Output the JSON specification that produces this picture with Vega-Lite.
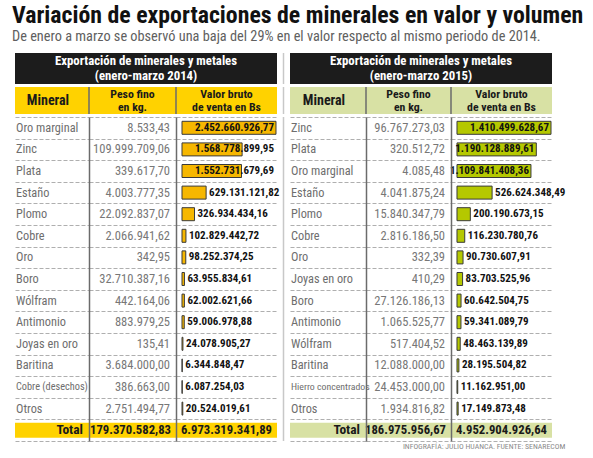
{
  "$schema": "https://vega.github.io/schema/vega-lite/v6.json",
  "background": "white",
  "padding": {"left": 12, "top": 4, "right": 5, "bottom": 5},
  "title": {
    "text": "Variación de exportaciones de minerales en valor y volumen",
    "subtitle": "De enero a marzo se observó una baja del 29% en el valor respecto al mismo periodo de 2014.",
    "anchor": "start", "fontSize": 23.8, "fontWeight": "bold", "color": "#111111",
    "subtitleFontSize": 14.3, "subtitleColor": "#606060", "subtitlePadding": 2,
    "offset": 8, "dx": -3
  },
  "config": {
    "view": {"stroke": null},
    "locale": {"number": {"decimal": ",", "thousands": ".", "grouping": [3], "currency": ["", ""]}},
    "text": {"font": "Roboto Condensed"},
    "title": {"font": "Roboto Condensed", "subtitleFont": "Roboto Condensed"}
  },
  "datasets": {
    "t2014": [
      {"mineral": "Oro marginal", "peso": 8533.43, "valor": 2452660926.77},
      {"mineral": "Zinc", "peso": 109999709.06, "valor": 1568778899.95},
      {"mineral": "Plata", "peso": 339617.70, "valor": 1552731679.69},
      {"mineral": "Estaño", "peso": 4003777.35, "valor": 629131121.82},
      {"mineral": "Plomo", "peso": 22092837.07, "valor": 326934434.16},
      {"mineral": "Cobre", "peso": 2066941.62, "valor": 102829442.72},
      {"mineral": "Oro", "peso": 342.95, "valor": 98252374.25},
      {"mineral": "Boro", "peso": 32710387.16, "valor": 63955834.61},
      {"mineral": "Wólfram", "peso": 442164.06, "valor": 62002621.66},
      {"mineral": "Antimonio", "peso": 883979.25, "valor": 59006978.88},
      {"mineral": "Joyas en oro", "peso": 135.41, "valor": 24078905.27},
      {"mineral": "Baritina", "peso": 3684000.00, "valor": 6344848.47},
      {"mineral": "Cobre (desechos)", "peso": 386663.00, "valor": 6087254.03},
      {"mineral": "Otros", "peso": 2751494.77, "valor": 20524019.61},
      {"mineral": "Total", "peso": 179370582.83, "valor": 6973319341.89}
    ],
    "t2015": [
      {"mineral": "Zinc", "peso": 96767273.03, "valor": 1410499628.67},
      {"mineral": "Plata", "peso": 320512.72, "valor": 1190128889.61},
      {"mineral": "Oro marginal", "peso": 4085.48, "valor": 1109841408.36},
      {"mineral": "Estaño", "peso": 4041875.24, "valor": 526624348.49},
      {"mineral": "Plomo", "peso": 15840347.79, "valor": 200190673.15},
      {"mineral": "Cobre", "peso": 2816186.50, "valor": 116230780.76},
      {"mineral": "Oro", "peso": 332.39, "valor": 90730607.91},
      {"mineral": "Joyas en oro", "peso": 410.29, "valor": 83703525.96},
      {"mineral": "Boro", "peso": 27126186.13, "valor": 60642504.75},
      {"mineral": "Antimonio", "peso": 1065525.77, "valor": 59341089.79},
      {"mineral": "Wólfram", "peso": 517404.52, "valor": 48463139.89},
      {"mineral": "Baritina", "peso": 12088000.00, "valor": 28195504.82},
      {"mineral": "Hierro concentrados", "peso": 24453000.00, "valor": 11162951.00},
      {"mineral": "Otros", "peso": 1934816.82, "valor": 17149873.48},
      {"mineral": "Total", "peso": 186975956.67, "valor": 4952904926.64}
    ]
  },
  "spacing": 1,
  "vconcat": [
    {
      "spacing": 0, "bounds": "flush",
      "hconcat": [
        {
          "width": 262, "height": 31, "view": {"fill": "#1c1c1c", "stroke": null},
          "data": {"values": [{"a": "Exportación de minerales y metales", "b": "(enero-marzo 2014)"}]},
          "layer": [
            {"mark": {"type": "text", "color": "#ffffff", "fontWeight": "bold", "fontSize": 12.8, "dy": -7.3}, "encoding": {"text": {"field": "a"}}},
            {"mark": {"type": "text", "color": "#ffffff", "fontWeight": "bold", "fontSize": 12.8, "dy": 7.3}, "encoding": {"text": {"field": "b"}}}
          ]
        },
        {
          "width": 13, "height": 31, "data": {"values": [{}]},
          "mark": {"type": "rule", "color": "#c8c8c8", "strokeWidth": 1.5},
          "encoding": {"x": {"datum": 0.5, "type": "quantitative", "scale": {"domain": [0, 1]}, "axis": null}}
        },
        {
          "width": 262, "height": 31, "view": {"fill": "#1c1c1c", "stroke": null},
          "data": {"values": [{"a": "Exportación de minerales y metales", "b": "(enero-marzo 2015)"}]},
          "layer": [
            {"mark": {"type": "text", "color": "#ffffff", "fontWeight": "bold", "fontSize": 12.8, "dy": -7.3}, "encoding": {"text": {"field": "a"}}},
            {"mark": {"type": "text", "color": "#ffffff", "fontWeight": "bold", "fontSize": 12.8, "dy": 7.3}, "encoding": {"text": {"field": "b"}}}
          ]
        }
      ]
    },
    {
      "spacing": 0, "bounds": "flush",
      "hconcat": [
        {
          "width": 74, "height": 27, "view": {"fill": "#FFD200", "stroke": null},
          "data": {"values": [{"t": "Mineral"}]},
          "mark": {"type": "text", "fontWeight": "bold", "fontSize": 14, "color": "#1a1a1a", "dx": -4},
          "encoding": {"text": {"field": "t"}}
        },
        {
          "width": 87, "height": 27, "view": {"fill": "#FFD200", "stroke": null},
          "data": {"values": [{"a": "Peso fino", "b": "en kg."}]},
          "layer": [
            {"mark": {"type": "text", "fontWeight": "bold", "fontSize": 11.8, "dy": -6.8, "color": "#1a1a1a"}, "encoding": {"text": {"field": "a"}}},
            {"mark": {"type": "text", "fontWeight": "bold", "fontSize": 11.8, "dy": 6.8, "color": "#1a1a1a"}, "encoding": {"text": {"field": "b"}}},
            {"mark": {"type": "rule", "color": "#6b6b6b", "strokeWidth": 1.5}, "encoding": {"x": {"datum": 0, "type": "quantitative", "scale": {"domain": [0, 1]}, "axis": null}}}
          ]
        },
        {
          "width": 101, "height": 27, "view": {"fill": "#FFD200", "stroke": null},
          "data": {"values": [{"a": "Valor bruto", "b": "de venta en Bs"}]},
          "layer": [
            {"mark": {"type": "text", "fontWeight": "bold", "fontSize": 11.8, "dy": -6.8, "color": "#1a1a1a"}, "encoding": {"text": {"field": "a"}}},
            {"mark": {"type": "text", "fontWeight": "bold", "fontSize": 11.8, "dy": 6.8, "color": "#1a1a1a"}, "encoding": {"text": {"field": "b"}}},
            {"mark": {"type": "rule", "color": "#6b6b6b", "strokeWidth": 1.5}, "encoding": {"x": {"datum": 0, "type": "quantitative", "scale": {"domain": [0, 1]}, "axis": null}}}
          ]
        },
        {
          "width": 13, "height": 27, "data": {"values": [{}]},
          "mark": {"type": "rule", "color": "#c8c8c8", "strokeWidth": 1.5},
          "encoding": {"x": {"datum": 0.5, "type": "quantitative", "scale": {"domain": [0, 1]}, "axis": null}}
        },
        {
          "width": 76, "height": 27, "view": {"fill": "#D8E1A4", "stroke": null},
          "data": {"values": [{"t": "Mineral"}]},
          "mark": {"type": "text", "fontWeight": "bold", "fontSize": 14, "color": "#1a1a1a", "dx": -4},
          "encoding": {"text": {"field": "t"}}
        },
        {
          "width": 85, "height": 27, "view": {"fill": "#D8E1A4", "stroke": null},
          "data": {"values": [{"a": "Peso fino", "b": "en kg."}]},
          "layer": [
            {"mark": {"type": "text", "fontWeight": "bold", "fontSize": 11.8, "dy": -6.8, "color": "#1a1a1a"}, "encoding": {"text": {"field": "a"}}},
            {"mark": {"type": "text", "fontWeight": "bold", "fontSize": 11.8, "dy": 6.8, "color": "#1a1a1a"}, "encoding": {"text": {"field": "b"}}},
            {"mark": {"type": "rule", "color": "#6b6b6b", "strokeWidth": 1.5}, "encoding": {"x": {"datum": 0, "type": "quantitative", "scale": {"domain": [0, 1]}, "axis": null}}}
          ]
        },
        {
          "width": 101, "height": 27, "view": {"fill": "#D8E1A4", "stroke": null},
          "data": {"values": [{"a": "Valor bruto", "b": "de venta en Bs"}]},
          "layer": [
            {"mark": {"type": "text", "fontWeight": "bold", "fontSize": 11.8, "dy": -6.8, "color": "#1a1a1a"}, "encoding": {"text": {"field": "a"}}},
            {"mark": {"type": "text", "fontWeight": "bold", "fontSize": 11.8, "dy": 6.8, "color": "#1a1a1a"}, "encoding": {"text": {"field": "b"}}},
            {"mark": {"type": "rule", "color": "#6b6b6b", "strokeWidth": 1.5}, "encoding": {"x": {"datum": 0, "type": "quantitative", "scale": {"domain": [0, 1]}, "axis": null}}}
          ]
        }
      ]
    },
    {
      "spacing": 0, "bounds": "flush",
      "title": {"text": "INFOGRAFÍA: JULIO HUANCA. FUENTE: SENARECOM", "orient": "bottom", "anchor": "end", "fontSize": 7.8, "fontWeight": "normal", "color": "#8a8a8a", "offset": 1, "dx": 0},
      "hconcat": [
        {
          "width": 74, "height": 324,
          "data": {"name": "t2014"},
          "encoding": {"y": {"field": "mineral", "type": "nominal", "scale": {"domain": ["Oro marginal","Zinc","Plata","Estaño","Plomo","Cobre","Oro","Boro","Wólfram","Antimonio","Joyas en oro","Baritina","Cobre (desechos)","Otros","Total"], "paddingInner": 0, "paddingOuter": 0}, "axis": {"title": null, "labels": false, "ticks": false, "domain": false, "grid": true, "gridDash": [4, 2], "gridColor": "#9a9a9a", "gridWidth": 0.8, "tickBand": "extent", "zindex": 1}}},
          "layer": [
            {"transform": [{"filter": "datum.mineral === 'Total'"}], "mark": {"type": "bar", "color": "#FFD200", "size": 15}, "encoding": {"x": {"datum": 0, "type": "quantitative", "scale": {"domain": [0, 1]}, "axis": null}, "x2": {"datum": 1}}},
            {"transform": [{"filter": "datum.mineral !== 'Total' && length(datum.mineral) <= 14"}], "mark": {"type": "text", "align": "left", "dx": 1, "fontSize": 12.3, "color": "#6e6e6e"}, "encoding": {"x": {"datum": 0, "type": "quantitative"}, "text": {"field": "mineral"}}},
            {"transform": [{"filter": "length(datum.mineral) > 14"}], "mark": {"type": "text", "align": "left", "dx": 1, "fontSize": 10.3, "color": "#6e6e6e"}, "encoding": {"x": {"datum": 0, "type": "quantitative"}, "text": {"field": "mineral"}}},
            {"transform": [{"filter": "datum.mineral === 'Total'"}], "mark": {"type": "text", "align": "right", "dx": -6, "fontSize": 13.5, "fontWeight": "bold", "color": "#1a1a1a"}, "encoding": {"x": {"datum": 1, "type": "quantitative"}, "text": {"field": "mineral"}}}
          ]
        },
        {
          "width": 87, "height": 324,
          "data": {"name": "t2014"},
          "encoding": {"y": {"field": "mineral", "type": "nominal", "scale": {"domain": ["Oro marginal","Zinc","Plata","Estaño","Plomo","Cobre","Oro","Boro","Wólfram","Antimonio","Joyas en oro","Baritina","Cobre (desechos)","Otros","Total"], "paddingInner": 0, "paddingOuter": 0}, "axis": {"title": null, "labels": false, "ticks": false, "domain": true, "domainColor": "#6b6b6b", "domainWidth": 1.5, "grid": true, "gridDash": [4, 2], "gridColor": "#9a9a9a", "gridWidth": 0.8, "tickBand": "extent", "zindex": 1}}},
          "layer": [
            {"transform": [{"filter": "datum.mineral === 'Total'"}], "mark": {"type": "bar", "color": "#FFD200", "size": 15}, "encoding": {"x": {"datum": 0, "type": "quantitative", "scale": {"domain": [0, 1]}, "axis": null}, "x2": {"datum": 1}}},
            {"transform": [{"filter": "datum.mineral !== 'Total'"}], "mark": {"type": "text", "align": "right", "dx": -6, "fontSize": 12.5, "color": "#777777"}, "encoding": {"x": {"datum": 1, "type": "quantitative"}, "text": {"field": "peso", "type": "quantitative", "format": ",.2f"}}},
            {"transform": [{"filter": "datum.mineral === 'Total'"}], "mark": {"type": "text", "align": "right", "dx": -5, "fontSize": 12.7, "fontWeight": "bold", "color": "#1a1a1a"}, "encoding": {"x": {"datum": 1, "type": "quantitative"}, "text": {"field": "peso", "type": "quantitative", "format": ",.2f"}}}
          ]
        },
        {
          "width": 101, "height": 324,
          "data": {"name": "t2014"},
          "encoding": {"y": {"field": "mineral", "type": "nominal", "scale": {"domain": ["Oro marginal","Zinc","Plata","Estaño","Plomo","Cobre","Oro","Boro","Wólfram","Antimonio","Joyas en oro","Baritina","Cobre (desechos)","Otros","Total"], "paddingInner": 0, "paddingOuter": 0}, "axis": {"title": null, "labels": false, "ticks": false, "domain": true, "domainColor": "#6b6b6b", "domainWidth": 1.5, "grid": true, "gridDash": [4, 2], "gridColor": "#9a9a9a", "gridWidth": 0.8, "tickBand": "extent", "zindex": 1}}},
          "layer": [
            {"transform": [{"filter": "datum.mineral === 'Total'"}], "mark": {"type": "bar", "color": "#FFD200", "size": 15}, "encoding": {"x": {"datum": -156600000, "type": "quantitative", "scale": {"domain": [-156600000, 2479000000], "nice": false}, "axis": null}, "x2": {"datum": 2479000000}}},
            {"transform": [{"filter": "datum.mineral !== 'Total'"}], "mark": {"type": "bar", "color": "#F6B700", "stroke": "#3a3a3a", "strokeWidth": 1, "size": 13}, "encoding": {"x": {"field": "valor", "type": "quantitative"}, "x2": {"datum": 0}}},
            {"transform": [{"filter": "datum.mineral !== 'Total' && datum.valor >= 1000000000"}], "mark": {"type": "text", "align": "right", "dx": -2, "fontSize": 11, "fontWeight": "bold", "color": "#111111"}, "encoding": {"x": {"datum": 2452660926.77, "type": "quantitative"}, "text": {"field": "valor", "type": "quantitative", "format": ",.2f"}}},
            {"transform": [{"filter": "datum.valor < 1000000000"}], "mark": {"type": "text", "align": "left", "dx": 3, "fontSize": 11, "fontWeight": "bold", "color": "#111111"}, "encoding": {"x": {"field": "valor", "type": "quantitative"}, "text": {"field": "valor", "type": "quantitative", "format": ",.2f"}}},
            {"transform": [{"filter": "datum.mineral === 'Total'"}], "mark": {"type": "text", "align": "right", "dx": -5, "fontSize": 12.7, "fontWeight": "bold", "color": "#1a1a1a"}, "encoding": {"x": {"datum": 2479000000, "type": "quantitative"}, "text": {"field": "valor", "type": "quantitative", "format": ",.2f"}}}
          ]
        },
        {
          "width": 13, "height": 324, "data": {"values": [{}]},
          "mark": {"type": "rule", "color": "#c8c8c8", "strokeWidth": 1.5},
          "encoding": {"x": {"datum": 0.5, "type": "quantitative", "scale": {"domain": [0, 1]}, "axis": null}}
        },
        {
          "width": 76, "height": 324,
          "data": {"name": "t2015"},
          "encoding": {"y": {"field": "mineral", "type": "nominal", "scale": {"domain": ["Zinc","Plata","Oro marginal","Estaño","Plomo","Cobre","Oro","Joyas en oro","Boro","Antimonio","Wólfram","Baritina","Hierro concentrados","Otros","Total"], "paddingInner": 0, "paddingOuter": 0}, "axis": {"title": null, "labels": false, "ticks": false, "domain": false, "grid": true, "gridDash": [4, 2], "gridColor": "#9a9a9a", "gridWidth": 0.8, "tickBand": "extent", "zindex": 1}}},
          "layer": [
            {"transform": [{"filter": "datum.mineral === 'Total'"}], "mark": {"type": "bar", "color": "#D8E1A4", "size": 15}, "encoding": {"x": {"datum": 0, "type": "quantitative", "scale": {"domain": [0, 1]}, "axis": null}, "x2": {"datum": 1}}},
            {"transform": [{"filter": "datum.mineral !== 'Total' && length(datum.mineral) <= 14"}], "mark": {"type": "text", "align": "left", "dx": 1, "fontSize": 12.3, "color": "#6e6e6e"}, "encoding": {"x": {"datum": 0, "type": "quantitative"}, "text": {"field": "mineral"}}},
            {"transform": [{"filter": "length(datum.mineral) > 14"}], "mark": {"type": "text", "align": "left", "dx": 1, "fontSize": 9.8, "color": "#6e6e6e"}, "encoding": {"x": {"datum": 0, "type": "quantitative"}, "text": {"field": "mineral"}}},
            {"transform": [{"filter": "datum.mineral === 'Total'"}], "mark": {"type": "text", "align": "right", "dx": -6, "fontSize": 13.5, "fontWeight": "bold", "color": "#1a1a1a"}, "encoding": {"x": {"datum": 1, "type": "quantitative"}, "text": {"field": "mineral"}}}
          ]
        },
        {
          "width": 85, "height": 324,
          "data": {"name": "t2015"},
          "encoding": {"y": {"field": "mineral", "type": "nominal", "scale": {"domain": ["Zinc","Plata","Oro marginal","Estaño","Plomo","Cobre","Oro","Joyas en oro","Boro","Antimonio","Wólfram","Baritina","Hierro concentrados","Otros","Total"], "paddingInner": 0, "paddingOuter": 0}, "axis": {"title": null, "labels": false, "ticks": false, "domain": true, "domainColor": "#6b6b6b", "domainWidth": 1.5, "grid": true, "gridDash": [4, 2], "gridColor": "#9a9a9a", "gridWidth": 0.8, "tickBand": "extent", "zindex": 1}}},
          "layer": [
            {"transform": [{"filter": "datum.mineral === 'Total'"}], "mark": {"type": "bar", "color": "#D8E1A4", "size": 15}, "encoding": {"x": {"datum": 0, "type": "quantitative", "scale": {"domain": [0, 1]}, "axis": null}, "x2": {"datum": 1}}},
            {"transform": [{"filter": "datum.mineral !== 'Total'"}], "mark": {"type": "text", "align": "right", "dx": -6, "fontSize": 12.5, "color": "#777777"}, "encoding": {"x": {"datum": 1, "type": "quantitative"}, "text": {"field": "peso", "type": "quantitative", "format": ",.2f"}}},
            {"transform": [{"filter": "datum.mineral === 'Total'"}], "mark": {"type": "text", "align": "right", "dx": -5, "fontSize": 12.7, "fontWeight": "bold", "color": "#1a1a1a"}, "encoding": {"x": {"datum": 1, "type": "quantitative"}, "text": {"field": "peso", "type": "quantitative", "format": ",.2f"}}}
          ]
        },
        {
          "width": 101, "height": 324,
          "data": {"name": "t2015"},
          "encoding": {"y": {"field": "mineral", "type": "nominal", "scale": {"domain": ["Zinc","Plata","Oro marginal","Estaño","Plomo","Cobre","Oro","Joyas en oro","Boro","Antimonio","Wólfram","Baritina","Hierro concentrados","Otros","Total"], "paddingInner": 0, "paddingOuter": 0}, "axis": {"title": null, "labels": false, "ticks": false, "domain": true, "domainColor": "#6b6b6b", "domainWidth": 1.5, "grid": true, "gridDash": [4, 2], "gridColor": "#9a9a9a", "gridWidth": 0.8, "tickBand": "extent", "zindex": 1}}},
          "layer": [
            {"transform": [{"filter": "datum.mineral === 'Total'"}], "mark": {"type": "bar", "color": "#D8E1A4", "size": 15}, "encoding": {"x": {"datum": -90030000, "type": "quantitative", "scale": {"domain": [-90030000, 1425500000], "nice": false}, "axis": null}, "x2": {"datum": 1425500000}}},
            {"transform": [{"filter": "datum.mineral !== 'Total'"}], "mark": {"type": "bar", "color": "#B5C800", "stroke": "#3a3a3a", "strokeWidth": 1, "size": 13}, "encoding": {"x": {"field": "valor", "type": "quantitative"}, "x2": {"datum": 0}}},
            {"transform": [{"filter": "datum.mineral !== 'Total' && datum.valor >= 1000000000"}], "mark": {"type": "text", "align": "right", "dx": -2, "fontSize": 11, "fontWeight": "bold", "color": "#111111"}, "encoding": {"x": {"field": "valor", "type": "quantitative"}, "text": {"field": "valor", "type": "quantitative", "format": ",.2f"}}},
            {"transform": [{"filter": "datum.valor < 1000000000"}], "mark": {"type": "text", "align": "left", "dx": 3, "fontSize": 11, "fontWeight": "bold", "color": "#111111"}, "encoding": {"x": {"field": "valor", "type": "quantitative"}, "text": {"field": "valor", "type": "quantitative", "format": ",.2f"}}},
            {"transform": [{"filter": "datum.mineral === 'Total'"}], "mark": {"type": "text", "align": "right", "dx": -5, "fontSize": 12.7, "fontWeight": "bold", "color": "#1a1a1a"}, "encoding": {"x": {"datum": 1425500000, "type": "quantitative"}, "text": {"field": "valor", "type": "quantitative", "format": ",.2f"}}}
          ]
        }
      ]
    }
  ]
}
